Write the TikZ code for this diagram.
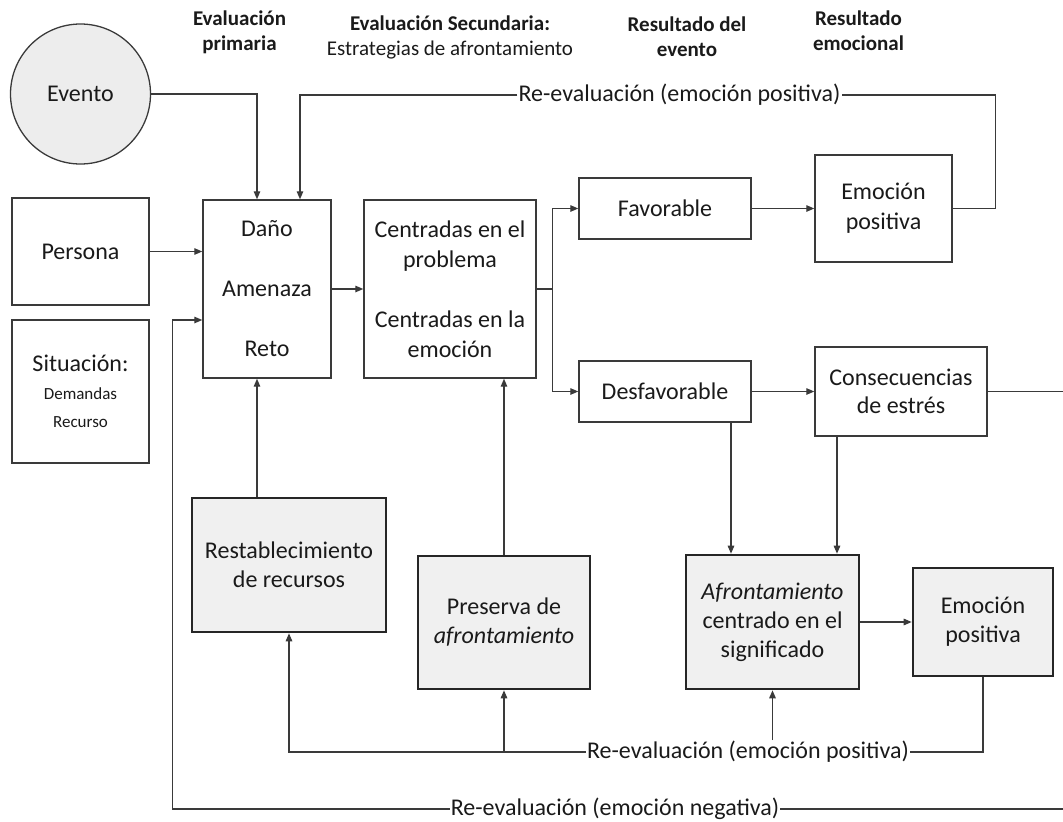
\documentclass[tikz,border=0pt]{standalone}
\usepackage{fontspec}
\setmainfont{Carlito}
\usetikzlibrary{arrows.meta,calc}
\definecolor{ln}{HTML}{3A3A3A}
\definecolor{shade}{HTML}{F0F0F0}
\definecolor{circ}{HTML}{EDEDED}
\definecolor{ink}{HTML}{1A1A1A}
\tikzset{
  box/.style={draw=ln, line width=1.4pt, fill=white, inner sep=0pt, align=center,
    text=ink, font=\fontsize{24}{29}\selectfont},
  gbox/.style={box, draw=black!85, line width=2.6pt, fill=shade},
  lbl/.style={inner sep=1pt, text=ink, font=\fontsize{24}{29}\selectfont},
  head/.style={align=center, inner sep=0pt, text=ink, font=\bfseries\fontsize{21}{25}\selectfont},
  conn/.style={draw=ln, line width=1.3pt},
  arr/.style={conn, -{Triangle[length=8pt,width=6.5pt]}},
}
\begin{document}
\begin{tikzpicture}[x=1pt,y=-1pt]
\useasboundingbox (0,0) rectangle (1063,822);

% column headings
\node[head] (h1) at (239.5,32) {Evaluación\\primaria};
\node[head, font=\fontsize{21}{25}\selectfont] (h2) at (450,37)
  {\textbf{Evaluación Secundaria:}\\Estrategias de afrontamiento};
\node[head] (h3) at (687,37) {Resultado del\\evento};
\node[head] (h4) at (858.5,30.5) {Resultado\\emocional};

% inputs
\node[circle, draw=ln, line width=1.3pt, fill=circ, minimum size=140pt, inner sep=0pt,
  text=ink, font=\fontsize{24}{29}\selectfont] (evento) at (80.5,94) {Evento};
\node[box, minimum width=137pt, minimum height=107pt] (persona) at (80.5,251.5) {Persona};
\node[box, minimum width=137pt, minimum height=143pt, font=\fontsize{24}{28}\selectfont] (situacion) at (80.5,391.5)
  {Situación:\\{\fontsize{17}{20}\selectfont Demandas}\\{\fontsize{17}{20}\selectfont Recurso}};

% appraisal and coping
\node[box, minimum width=128pt, minimum height=178pt, font=\fontsize{24}{60}\selectfont] (dano) at (267,289)
  {Daño\\Amenaza\\Reto};
\node[box, minimum width=172pt, minimum height=178pt, font=\fontsize{24}{30}\selectfont] (centradas) at (450,289)
  {Centradas en el\\problema\\[30pt]Centradas en la\\emoción};

% outcomes
\node[box, minimum width=172pt, minimum height=61pt] (favorable) at (665,208.5) {Favorable};
\node[box, minimum width=137pt, minimum height=107pt, font=\fontsize{24}{30}\selectfont] (emopos) at (883.5,208.5)
  {Emoción\\positiva};
\node[box, minimum width=172pt, minimum height=61pt] (desfav) at (665,391.5) {Desfavorable};
\node[box, minimum width=172pt, minimum height=89pt, font=\fontsize{24}{28}\selectfont] (consec) at (901,391.5)
  {Consecuencias\\de estrés};

% shaded coping boxes
\node[gbox, minimum width=194pt, minimum height=134pt] (restab) at (289,565) {Restablecimiento\\de recursos};
\node[gbox, minimum width=172pt, minimum height=133pt] (preserva) at (504,622.5) {Preserva de\\\textit{afrontamiento}};
\node[gbox, minimum width=173pt, minimum height=134pt] (afront) at (772.5,622)
  {\textit{Afrontamiento}\\centrado en el\\significado};
\node[gbox, minimum width=140pt, minimum height=108pt] (emopos2) at (983,622) {Emoción\\positiva};

% feedback labels
\node[lbl] (rtop) at (679.5,95) {Re-evaluación (emoción positiva)};
\node[lbl] (rpos2) at (748,752) {Re-evaluación (emoción positiva)};
\node[lbl] (rneg) at (615,809) {Re-evaluación (emoción negativa)};

% main flow
\draw[arr] (evento.east) -| ($(dano.north)+(-10,0)$);
\draw[arr] (persona.east) -- (persona.east -| dano.west);
\draw[arr] (dano.east) -- (centradas.west);
\coordinate (split) at ($(centradas.east)+(16,0)$);
\draw[conn] (centradas.east) -- (split);
\draw[arr] (split) |- (favorable.west);
\draw[arr] (split) |- (desfav.west);
\draw[arr] (favorable.east) -- (emopos.west);
\draw[arr] (desfav.east) -- (consec.west);
\coordinate (outR) at (1063,391.5);
\draw[conn] (consec.east) -- (outR);

% top re-evaluation loop
\draw[conn] (emopos.east) -- ++(43,0) |- (rtop.east);
\draw[arr] (rtop.west) -| ($(dano.north)+(33,0)$);

% meaning-focused coping
\coordinate (d1) at ($(desfav.south)+(66,0)$);
\draw[arr] (d1) -- (d1 |- afront.north);
\coordinate (c1) at ($(consec.south)+(-64,0)$);
\draw[arr] (c1) -- (c1 |- afront.north);
\draw[arr] (afront.east) -- (emopos2.west);

% lower positive re-evaluation loop
\draw[conn] (emopos2.south) |- (rpos2.east);
\draw[arr] (rpos2.west) -| (restab.south);
\draw[arr] (rpos2.west -| preserva.south) -- (preserva.south);
\draw[arr] (rpos2.north -| afront.south) -- (afront.south);

% resources back to appraisal and coping
\coordinate (u1) at ($(restab.north)+(-32,0)$);
\draw[arr] (u1) -- (u1 |- dano.south);
\draw[arr] (preserva.north) -- (preserva.north |- centradas.south);

% negative re-evaluation loop
\coordinate (n1) at ($(dano.west)+(-30,31)$);
\draw[arr] (rneg.west) -| (n1) -- (n1 -| dano.west);
\coordinate (negR) at (1063,809);
\draw[conn] (rneg.east) -- (negR);
\end{tikzpicture}
\end{document}
